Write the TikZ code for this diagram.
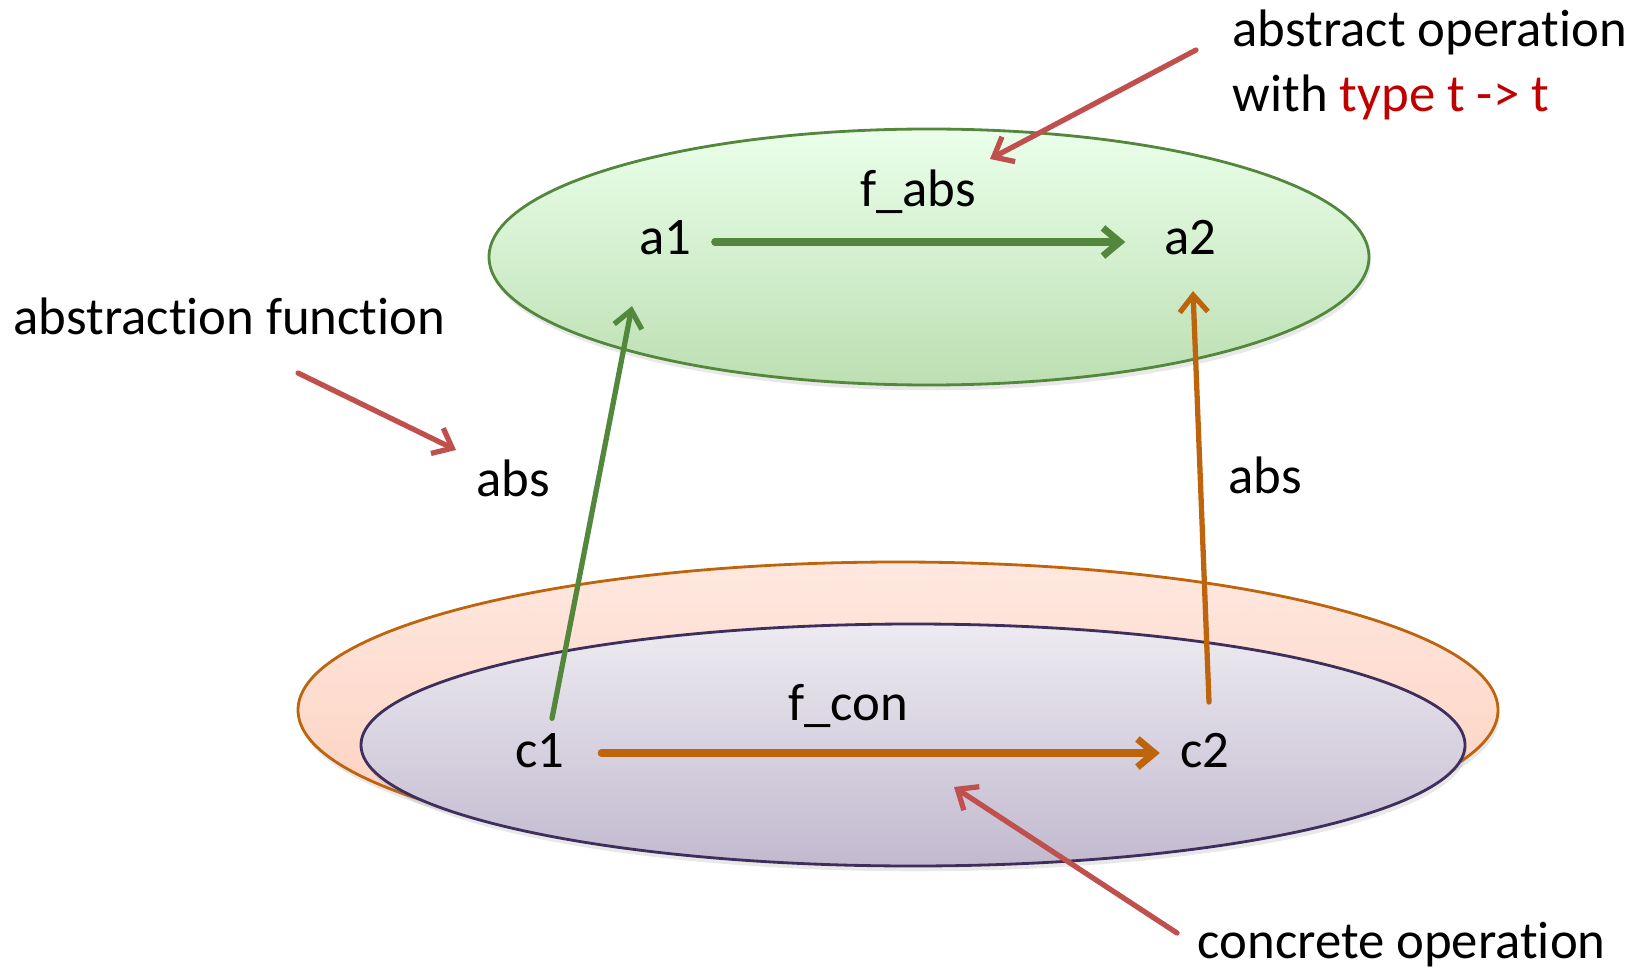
\documentclass[tikz,border=0pt]{standalone}
\usepackage{fontspec}
\setmainfont{Carlito}[Ligatures={TeX,NoCommon}]
\usetikzlibrary{arrows.meta,calc,shadows}

\definecolor{absgreen}{RGB}{82,135,60}
\definecolor{conorange}{RGB}{190,100,12}
\definecolor{noteRed}{RGB}{192,80,77}
\definecolor{typeRed}{RGB}{192,0,0}

\begin{document}
\begin{tikzpicture}[x=0.01cm,y=0.01cm]
        \tikzset{lbl/.style = {font=\fontsize{15}{18.5}\selectfont, inner sep=0pt}}
        \tikzset{edge/.style = {-{Straight Barb[length=4.8pt,width=8pt]}, line width=1.5pt, line cap=round, line join=round}}
        \tikzset{thick edge/.style = {edge, line width=2pt}}
        \tikzset{set/.style = {line width=0.8pt, drop shadow={shadow xshift=0.5pt, shadow yshift=-1.5pt, opacity=0.18}}}
        \useasboundingbox (0,0) rectangle (1640,966);

        % sets
        \path[set, draw=absgreen, top color=green!8!white, bottom color={rgb,255:red,188;green,223;blue,178}]
            (929,709) ellipse [x radius=440, y radius=128];
        \path[set, draw=conorange, top color={rgb,255:red,255;green,232;blue,224}, bottom color={rgb,255:red,252;green,206;blue,186}]
            (898,256) ellipse [x radius=600, y radius=148];
        \path[set, draw={rgb,255:red,62;green,46;blue,92}, top color={rgb,255:red,237;green,235;blue,241}, bottom color={rgb,255:red,194;green,185;blue,207}]
            (913,221) ellipse [x radius=552, y radius=121];

        % values
        \node[lbl, anchor=base] (a1) at (665,711) {a1};
        \node[lbl, anchor=base] (a2) at (1190,711) {a2};
        \node[lbl, anchor=base] (c1) at (540,199) {c1};
        \node[lbl, anchor=base] (c2) at (1205,199) {c2};

        % labels
        \node[lbl, anchor=base] (fabs) at (918,759) {f\_abs};
        \node[lbl, anchor=base] (fcon) at (848,246) {f\_con};
        \node[lbl, anchor=base] (absl) at (513,470) {abs};
        \node[lbl, anchor=base] (absr) at (1265,473) {abs};
        \node[lbl, anchor=base west] (absfun) at (13,631) {abstraction function};
        \node[lbl, anchor=base west, align=left] (absop) at (1232,854)
            {abstract operation\\with \textcolor{typeRed}{type t -> t}};
        \node[lbl, anchor=base west] (conop) at (1197,8) {concrete operation};

        % pointers
        \coordinate (p1) at (1196,916);
        \coordinate (q1) at (990,807);
        \coordinate (p2) at (298,593);
        \coordinate (q2) at (456,516);
        \coordinate (p3) at (1177,33);
        \coordinate (q3) at (954,179);

        %edges
        \draw[thick edge, absgreen] ($(a1.base east)+(23,13)$) -- ($(a2.base west)+(-38,13)$);
        \draw[thick edge, conorange] ($(c1.base east)+(36,14)$) -- ($(c2.base west)+(-20,14)$);
        \draw[edge, absgreen] ($(c1.north)+(12,14)$) -- ($(a1.south)+(-33,-50)$);
        \draw[edge, conorange] ($(c2.north)+(4,30)$) -- ($(a2.south)+(3,-35)$);

        \draw[edge, noteRed] (p1) -- (q1);
        \draw[edge, noteRed] (p2) -- (q2);
        \draw[edge, noteRed] (p3) -- (q3);

    \end{tikzpicture}
\end{document}
